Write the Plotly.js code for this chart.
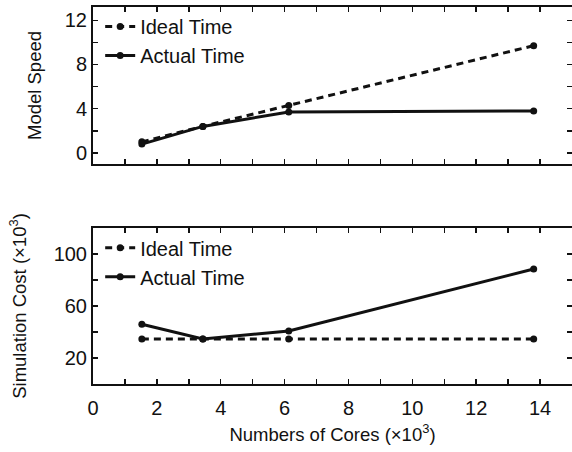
<!DOCTYPE html>
<html><head><meta charset="utf-8">
<script src="https://cdn.plot.ly/plotly-3.0.1.min.js"></script>
<style>body{margin:0;background:#fff}#chart{width:572px;height:452px}</style>
</head><body><div id="chart"></div>
<script>
const cores = [1.53, 3.44, 6.13, 13.8];
const speedIdeal = [1.0, 2.4, 4.3, 9.7];
const speedActual = [0.8, 2.4, 3.7, 3.8];
const costIdeal = [34.6, 34.6, 34.6, 34.6];
const costActual = [46, 34.6, 40.8, 88.5];

const F = 'Liberation Sans, Arial, Helvetica, sans-serif';
const ideal = {color:'#111', width:3, dash:'7px,5px'};
const actual = {color:'#111', width:3};
const mk = {color:'#111', size:7};

const traces = [
  {x:cores, y:speedIdeal, name:'Ideal Time', mode:'lines+markers', line:ideal, marker:mk, xaxis:'x', yaxis:'y', legend:'legend'},
  {x:cores, y:speedActual, name:'Actual Time', mode:'lines+markers', line:actual, marker:mk, xaxis:'x', yaxis:'y', legend:'legend'},
  {x:cores, y:costIdeal, name:'Ideal Time', mode:'lines+markers', line:ideal, marker:mk, xaxis:'x2', yaxis:'y2', legend:'legend2'},
  {x:cores, y:costActual, name:'Actual Time', mode:'lines+markers', line:actual, marker:mk, xaxis:'x2', yaxis:'y2', legend:'legend2'}
];

const minorT = {ticks:'inside', ticklen:5, tickcolor:'#111', tickwidth:1.5};
const axBase = {showline:true, linecolor:'#111', linewidth:2, mirror:'ticks', ticks:'inside', ticklen:5, tickwidth:1.5, tickcolor:'#111', showgrid:false, zeroline:false, tickfont:{size:20, color:'#111', family:F}};
const titleFont = {size:18.5, family:F, color:'#111'};

const layout = {
  width:572, height:452,
  margin:{l:93, r:0, t:7, b:68},
  paper_bgcolor:'#fff', plot_bgcolor:'#fff',
  font:{family:F, color:'#111'},
  xaxis:Object.assign({}, axBase, {domain:[0,1], anchor:'y', range:[0,15], dtick:2, tick0:0, showticklabels:false, minor:Object.assign({dtick:1}, minorT)}),
  yaxis:Object.assign({}, axBase, {domain:[0.5836,1], anchor:'x', range:[-1,13.2], dtick:4, tick0:0, minor:Object.assign({dtick:2}, minorT), title:{text:'Model Speed', font:titleFont, standoff:18}}),
  xaxis2:Object.assign({}, axBase, {domain:[0,1], anchor:'y2', range:[0,15], dtick:2, tick0:0, ticklabelstandoff:5, minor:Object.assign({dtick:1}, minorT), title:{text:'Numbers of Cores (×10<sup>3</sup>)', font:titleFont, standoff:10}}),
  yaxis2:Object.assign({}, axBase, {domain:[0,0.4138], anchor:'x2', range:[0,120], dtick:40, tick0:20, minor:Object.assign({dtick:20}, minorT), title:{text:'Simulation Cost (×10<sup>3</sup>)', font:titleFont, standoff:22}}),
  legend:{x:0.015, y:1.0, xanchor:'left', yanchor:'top', bgcolor:'rgba(0,0,0,0)', font:{size:20, family:F, color:'#111'}, tracegroupgap:0, itemwidth:30},
  legend2:{x:0.015, y:0.413, xanchor:'left', yanchor:'top', bgcolor:'rgba(0,0,0,0)', font:{size:20, family:F, color:'#111'}, tracegroupgap:0, itemwidth:30},
  showlegend:true
};
Plotly.newPlot('chart', traces, layout, {displayModeBar:false, staticPlot:true});
</script></body></html>
